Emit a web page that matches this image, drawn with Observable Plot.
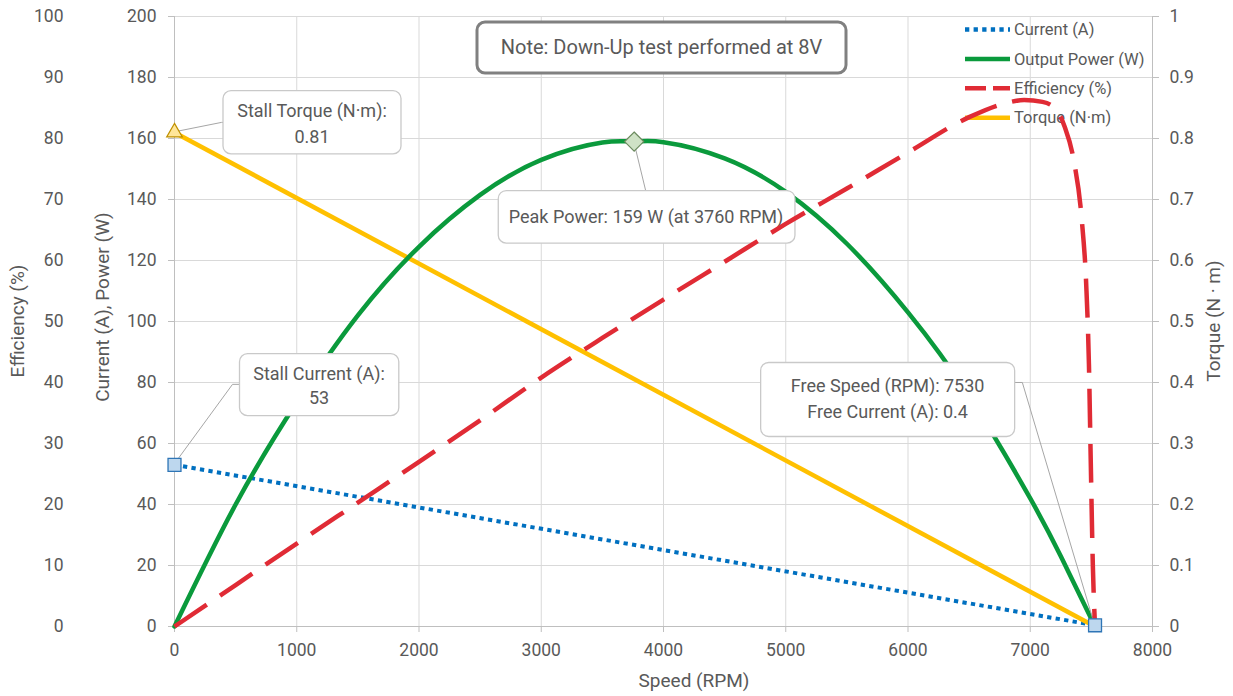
<!DOCTYPE html>
<html>
<head>
<meta charset="utf-8">
<script src="https://cdn.jsdelivr.net/npm/d3@7"></script>
<script src="https://cdn.jsdelivr.net/npm/@observablehq/plot@0.6"></script>
<style>
  html, body { margin: 0; padding: 0; background: #fff; }
  #chart svg { display: block; }
</style>
</head>
<body>
<div id="chart"></div>
<script>
// ---- axis ticks ----
const speedTicks = [0, 1000, 2000, 3000, 4000, 5000, 6000, 7000, 8000];
const powerTicks = [0, 20, 40, 60, 80, 100, 120, 140, 160, 180, 200];
const efficiencyTicks = [0, 10, 20, 30, 40, 50, 60, 70, 80, 90, 100];
const torqueTicks = [0, 0.1, 0.2, 0.3, 0.4, 0.5, 0.6, 0.7, 0.8, 0.9, 1];

// ---- measured series (speed in RPM) ----
const currentSpeed = [0, 7530];
const currentAmps = [53, 0.4];

const torqueSpeed = [0, 7530];
const torqueNm = [0.81, 0];

const powerSpeed = [0, 500, 1000, 1500, 2000, 2500, 3000, 3500, 3760, 4000, 4500, 5000, 5500, 6000, 6500, 7000, 7250, 7530];
const powerWatts = [0, 40, 73.5, 102, 124.5, 141.5, 153, 158.7, 159, 158.8, 153.5, 142.5, 125.5, 103, 75.5, 42, 23, 0];

const efficiencySpeed = [0, 500, 1000, 1500, 2000, 2500, 3000, 3500, 4000, 4500, 5000, 5500, 6000, 6500, 6800, 6950, 7100, 7200, 7280, 7360, 7420, 7460, 7480, 7495, 7512, 7530];
const efficiencyPct = [0, 6.8, 13.6, 20.3, 27, 33.8, 40.8, 47.3, 53.6, 59.8, 66, 71.8, 77.7, 83.5, 85.8, 86.3, 86, 85, 82, 76, 67, 55, 43, 27, 10, 0];

// ---- key points ----
const peakSpeed = 3760;
const peakPower = 159;
const freeSpeed = 7530;
const freeCurrent = 0.4;
const stallCurrent = 53;
const stallTorque = 0.81;

const seriesNames = ["Current (A)", "Output Power (W)", "Efficiency (%)", "Torque (N·m)"];
const seriesColors = ["#0070c0", "#0a9a3c", "#e02b35", "#ffc000"];
const noteText = "Note: Down-Up test performed at 8V";

// All series share one vertical scale in current/power units (0–200);
// efficiency (0–100 %) and torque (0–1 N·m) are rescaled onto it.
const yMax = powerTicks[powerTicks.length - 1];
const effToY = yMax / efficiencyTicks[efficiencyTicks.length - 1];
const torqueToY = yMax / torqueTicks[torqueTicks.length - 1];

const toRows = (xs, ys, k = 1) => xs.map((x, i) => ({x, y: ys[i] * k}));
const currentRows = toRows(currentSpeed, currentAmps);
const torqueRows = toRows(torqueSpeed, torqueNm, torqueToY);
const powerRows = toRows(powerSpeed, powerWatts);
const efficiencyRows = toRows(efficiencySpeed, efficiencyPct, effToY);

const FONT = "Roboto, 'Liberation Sans', sans-serif";
const TEXT = "#595959";
const GRID = "#d9d9d9";
const AXIS = "#bfbfbf";

// Rounded callout boxes with leader lines, placed relative to their anchor point.
const callouts = [
  {x: 0, y: stallTorque * torqueToY,
   lines: ["Stall Torque (N·m):", String(stallTorque)],
   box: [49, -41.3, 178, 63.3], text: [138, -15, 11],
   leader: [[47.5, -9.5], [49, -9.5]]},
  {x: 0, y: stallCurrent,
   lines: ["Stall Current (A):", String(stallCurrent)],
   box: [65.5, -110.7, 159.3, 62], text: [145, -84.7, -60.7],
   leader: [[58.5, -80], [65.5, -80]]},
  {x: peakSpeed, y: peakPower,
   lines: [`Peak Power: ${peakPower} W (at ${peakSpeed} RPM)`],
   box: [-135.4, 49.5, 296.7, 52.6], text: [12.4, 82],
   leader: [[12, 49.5]]},
  {x: freeSpeed, y: freeCurrent,
   lines: [`Free Speed (RPM): ${freeSpeed}`, `Free Current (A): ${freeCurrent}`],
   box: [-333.9, -262.3, 254, 74], text: [-206.9, -232.3, -206.8],
   leader: [[-72.2, -242.3], [-79.9, -242.3]]}
];

function calloutMark(index, scales) {
  const g = d3.create("svg:g").attr("font-family", FONT);
  for (const c of callouts) {
    const px = scales.x(c.x), py = scales.y(c.y);
    const pts = [[px, py], ...c.leader.map(([dx, dy]) => [px + dx, py + dy])];
    g.append("path")
      .attr("d", d3.line()(pts))
      .attr("fill", "none").attr("stroke", "#a6a6a6").attr("stroke-width", 1);
    g.append("rect")
      .attr("x", px + c.box[0]).attr("y", py + c.box[1])
      .attr("width", c.box[2]).attr("height", c.box[3])
      .attr("rx", 8).attr("fill", "#fff")
      .attr("stroke", "#c9c9c9").attr("stroke-width", 1.3);
    c.lines.forEach((line, i) => {
      g.append("text")
        .attr("x", px + c.text[0]).attr("y", py + c.text[i + 1])
        .attr("text-anchor", "middle").attr("font-size", 18)
        .attr("fill", TEXT).text(line);
    });
  }
  return g.node();
}

function legendMark(index, scales, values, dims) {
  const right = dims.width - dims.marginRight;
  const top = dims.marginTop;
  const dashes = ["4.3,4.3", null, "21,7", null];
  const g = d3.create("svg:g").attr("font-family", FONT);
  seriesNames.forEach((name, i) => {
    const y = top + 13.5 + i * 29.4;
    g.append("line")
      .attr("x1", right - 187).attr("x2", right - 142)
      .attr("y1", y).attr("y2", y)
      .attr("stroke", seriesColors[i]).attr("stroke-width", 4.5)
      .attr("stroke-dasharray", dashes[i]);
    g.append("text")
      .attr("x", right - 138).attr("y", y).attr("dy", "0.35em")
      .attr("text-anchor", "start")
      .attr("font-size", 16.5)
      .attr("fill", TEXT).text(name);
  });
  return g.node();
}

function titlesMark(index, scales, values, dims) {
  const g = d3.create("svg:g").attr("font-family", FONT).attr("fill", TEXT).attr("font-size", 19);
  const midY = (dims.marginTop + dims.height - dims.marginBottom) / 2;
  const midX = (dims.marginLeft + dims.width - dims.marginRight) / 2;
  const vertical = [
    ["Efficiency (%)", 17, midY],
    ["Current (A), Power (W)", 102, midY - 14],
    ["Torque (N · m)", dims.width - 20, midY]
  ];
  for (const [label, x, y] of vertical) {
    g.append("text")
      .attr("transform", `translate(${x},${y}) rotate(-90)`)
      .attr("text-anchor", "middle").attr("dy", "0.35em").text(label);
  }
  g.append("text")
    .attr("x", midX + 31).attr("y", dims.height - 16)
    .attr("text-anchor", "middle").attr("dy", "0.35em").text("Speed (RPM)");

  // note box above the curves
  const cx = midX - 1.5, top = dims.marginTop + 6;
  g.append("rect")
    .attr("x", cx - 184.5).attr("y", top).attr("width", 369).attr("height", 51)
    .attr("rx", 8).attr("fill", "#fff").attr("stroke", "#808080").attr("stroke-width", 3);
  g.append("text")
    .attr("x", cx).attr("y", top + 32).attr("text-anchor", "middle")
    .attr("font-size", 20).text(noteText);
  return g.node();
}

const tickLabel = (labels) => (d) => String(labels[powerTicks.indexOf(d)]);

const chart = Plot.plot({
  width: 1233,
  height: 696,
  marginLeft: 174,
  marginRight: 81,
  marginTop: 16,
  marginBottom: 70,
  style: {fontFamily: FONT, fontSize: "17.5px", color: TEXT, background: "#fff", overflow: "visible"},
  x: {domain: [speedTicks[0], speedTicks[speedTicks.length - 1]]},
  y: {domain: [powerTicks[0], yMax]},
  marks: [
    Plot.gridX(speedTicks, {stroke: GRID, strokeOpacity: 1}),
    Plot.gridY(powerTicks, {stroke: GRID, strokeOpacity: 1}),
    Plot.ruleX([speedTicks[0], speedTicks[speedTicks.length - 1]], {stroke: AXIS}),
    Plot.ruleY([powerTicks[0]], {stroke: AXIS}),
    Plot.axisX(speedTicks, {tickSize: 6, tickPadding: 11, stroke: AXIS, fill: TEXT, label: null, tickFormat: (d) => String(d)}),
    Plot.axisY(powerTicks, {anchor: "left", tickSize: 6, tickPadding: 12, stroke: AXIS, fill: TEXT, label: null, tickFormat: (d) => String(d)}),
    Plot.axisY(powerTicks, {anchor: "left", tickSize: 0, tickPadding: 111, fill: TEXT, label: null, tickFormat: tickLabel(efficiencyTicks)}),
    Plot.axisY(powerTicks, {anchor: "right", tickSize: 6, tickPadding: 11, stroke: AXIS, fill: TEXT, label: null, tickFormat: tickLabel(torqueTicks)}),
    legendMark,
    Plot.line(currentRows, {x: "x", y: "y", stroke: seriesColors[0], strokeWidth: 4, strokeDasharray: "4.3,4.3", strokeLinecap: "butt"}),
    Plot.line(torqueRows, {x: "x", y: "y", stroke: seriesColors[3], strokeWidth: 4.5, strokeLinecap: "butt"}),
    Plot.line(powerRows, {x: "x", y: "y", curve: "natural", stroke: seriesColors[1], strokeWidth: 4.5}),
    calloutMark,
    Plot.line(efficiencyRows, {x: "x", y: "y", curve: "monotone-x", stroke: seriesColors[2], strokeWidth: 4.5, strokeDasharray: "39,16", strokeLinecap: "butt"}),
    Plot.dot([{x: 0, y: stallTorque * torqueToY}], {x: "x", y: "y", symbol: "triangle", r: 5.8, fill: "#ffe699", stroke: "#bf9000", strokeWidth: 1.2}),
    Plot.dot([{x: peakSpeed, y: peakPower}], {x: "x", y: "y", symbol: "diamond2", r: 8.6, fill: "#cfe2c6", stroke: "#6b8a5e", strokeWidth: 1.2}),
    Plot.dot([{x: 0, y: stallCurrent}, {x: freeSpeed, y: freeCurrent}], {x: "x", y: "y", symbol: "square", r: 7.3, fill: "#bdd7ee", stroke: "#2e75b6", strokeWidth: 1.3}),
    titlesMark
  ]
});

document.getElementById("chart").append(chart);
</script>
</body>
</html>
